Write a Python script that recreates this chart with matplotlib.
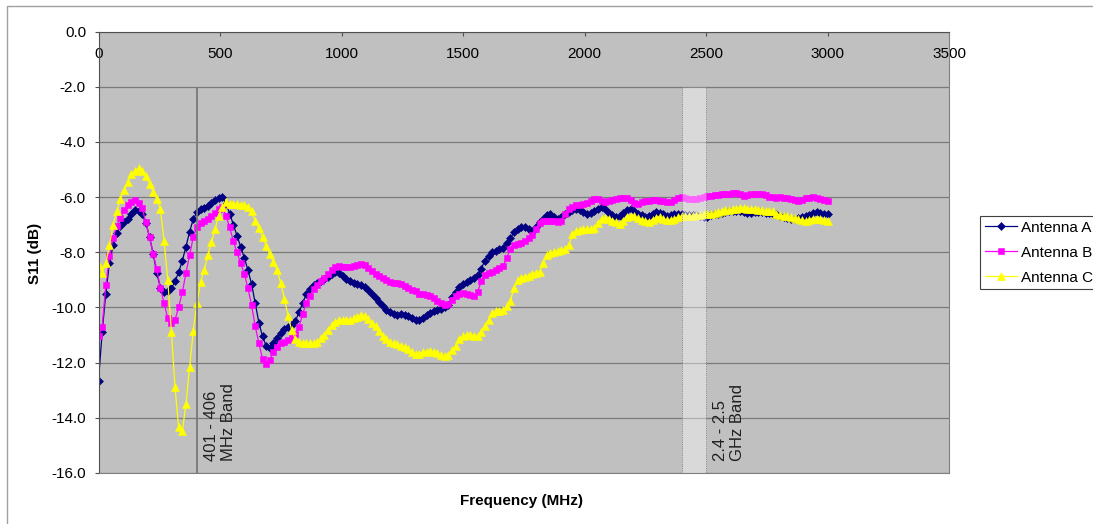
import matplotlib.pyplot as plt
import matplotlib.patches as patches
import numpy as np

plt.rcParams['font.family'] = ['Liberation Sans', 'DejaVu Sans']
plt.rcParams['axes.unicode_minus'] = False

# sweep points, 0 - 3000 MHz in 15 MHz steps
freq_mhz = np.arange(0, 3001, 15)

s11_antenna_a = [
    -12.65, -10.90, -9.50, -8.40, -7.75, -7.30, -7.05, -6.90, -6.80, -6.60,
    -6.48, -6.50, -6.62, -6.95, -7.45, -8.05, -8.75, -9.30, -9.45, -9.42,
    -9.30, -9.05, -8.72, -8.30, -7.80, -7.25, -6.80, -6.55, -6.45, -6.40,
    -6.32, -6.22, -6.12, -6.02, -6.00, -6.25, -6.60, -7.00, -7.40, -7.80,
    -8.20, -8.65, -9.15, -9.85, -10.55, -11.05, -11.40, -11.48, -11.30, -11.12,
    -10.92, -10.78, -10.70, -10.62, -10.50, -10.18, -9.85, -9.52, -9.32, -9.20,
    -9.10, -9.05, -8.98, -8.90, -8.80, -8.73, -8.76, -8.86, -8.97, -9.04,
    -9.10, -9.14, -9.19, -9.27, -9.38, -9.50, -9.64, -9.80, -9.95, -10.08,
    -10.18, -10.22, -10.26, -10.24, -10.28, -10.30, -10.38, -10.44, -10.46, -10.38,
    -10.28, -10.20, -10.14, -10.08, -10.04, -10.00, -9.90, -9.62, -9.45, -9.25,
    -9.15, -9.08, -9.02, -8.95, -8.82, -8.60, -8.30, -8.12, -8.00, -7.95,
    -7.90, -7.85, -7.65, -7.48, -7.28, -7.15, -7.10, -7.08, -7.15, -7.25,
    -7.10, -6.92, -6.78, -6.65, -6.62, -6.72, -6.78, -6.72, -6.62, -6.55,
    -6.48, -6.43, -6.48, -6.55, -6.60, -6.58, -6.50, -6.42, -6.37, -6.45,
    -6.58, -6.66, -6.72, -6.70, -6.58, -6.47, -6.45, -6.52, -6.60, -6.66,
    -6.72, -6.70, -6.60, -6.55, -6.58, -6.63, -6.67, -6.66, -6.62, -6.60,
    -6.62, -6.65, -6.66, -6.64, -6.66, -6.70, -6.73, -6.72, -6.66, -6.62,
    -6.60, -6.57, -6.55, -6.52, -6.50, -6.49, -6.51, -6.55, -6.58, -6.57,
    -6.55, -6.54, -6.55, -6.57, -6.58, -6.60, -6.62, -6.68, -6.73, -6.76,
    -6.78, -6.79, -6.77, -6.72, -6.68, -6.64, -6.58, -6.55, -6.57, -6.60,
    -6.62,
]

s11_antenna_b = [
    -11.05, -10.70, -9.20, -8.15, -7.48, -7.05, -6.75, -6.48, -6.30, -6.18,
    -6.12, -6.20, -6.40, -6.92, -7.45, -8.05, -8.62, -9.30, -9.85, -10.40,
    -10.55, -10.45, -9.98, -9.45, -8.75, -8.10, -7.45, -7.10, -6.95, -6.86,
    -6.78, -6.68, -6.56, -6.43, -6.36, -6.70, -7.10, -7.60, -8.00, -8.40,
    -8.78, -9.30, -9.92, -10.68, -11.30, -11.88, -12.05, -11.92, -11.60, -11.42,
    -11.30, -11.24, -11.18, -11.12, -10.98, -10.70, -10.25, -9.85, -9.58, -9.32,
    -9.18, -9.05, -8.92, -8.78, -8.63, -8.55, -8.50, -8.52, -8.54, -8.52,
    -8.50, -8.46, -8.44, -8.48, -8.58, -8.68, -8.78, -8.86, -8.95, -9.02,
    -9.07, -9.10, -9.12, -9.15, -9.22, -9.30, -9.36, -9.42, -9.50, -9.52,
    -9.54, -9.58, -9.66, -9.76, -9.84, -9.90, -9.88, -9.72, -9.58, -9.50,
    -9.48, -9.52, -9.56, -9.60, -9.45, -9.05, -8.82, -8.76, -8.72, -8.65,
    -8.58, -8.50, -8.20, -7.88, -7.74, -7.70, -7.65, -7.58, -7.48, -7.38,
    -7.15, -6.95, -6.88, -6.85, -6.86, -6.88, -6.90, -6.85, -6.60, -6.42,
    -6.35, -6.30, -6.27, -6.25, -6.20, -6.14, -6.08, -6.08, -6.14, -6.18,
    -6.15, -6.10, -6.06, -6.04, -6.02, -6.03, -6.12, -6.22, -6.24, -6.18,
    -6.14, -6.13, -6.12, -6.12, -6.14, -6.15, -6.19, -6.17, -6.10, -6.03,
    -6.00, -6.02, -6.06, -6.08, -6.07, -6.05, -6.00, -5.96, -5.95, -5.94,
    -5.92, -5.90, -5.89, -5.88, -5.84, -5.85, -5.90, -5.95, -5.93, -5.90,
    -5.88, -5.89, -5.90, -5.94, -5.98, -6.01, -6.02, -6.01, -6.02, -6.05,
    -6.08, -6.12, -6.13, -6.10, -6.05, -6.02, -6.01, -6.04, -6.08, -6.12,
    -6.13,
]

s11_antenna_c = [
    -8.45, -8.75, -8.40, -7.75, -7.00, -6.50, -6.08, -5.75, -5.45, -5.18,
    -5.05, -4.95, -5.05, -5.25, -5.52, -5.82, -6.08, -6.45, -7.60, -9.00,
    -10.90, -12.90, -14.35, -14.48, -13.50, -12.15, -10.85, -9.85, -9.07, -8.65,
    -8.11, -7.63, -7.15, -6.67, -6.37, -6.19, -6.24, -6.26, -6.25, -6.28,
    -6.30, -6.35, -6.52, -6.86, -7.12, -7.45, -7.78, -8.08, -8.36, -8.66,
    -9.12, -9.68, -10.30, -10.82, -11.15, -11.25, -11.30, -11.30, -11.30, -11.28,
    -11.25, -11.12, -11.00, -10.82, -10.64, -10.52, -10.46, -10.46, -10.46, -10.44,
    -10.40, -10.34, -10.26, -10.32, -10.42, -10.55, -10.68, -10.85, -11.05, -11.16,
    -11.25, -11.30, -11.34, -11.38, -11.42, -11.50, -11.62, -11.70, -11.68, -11.62,
    -11.60, -11.58, -11.60, -11.66, -11.72, -11.76, -11.72, -11.55, -11.38, -11.15,
    -11.05, -11.00, -11.00, -11.02, -11.05, -10.90, -10.68, -10.45, -10.20, -10.14,
    -10.12, -10.10, -9.95, -9.75, -9.30, -9.02, -8.92, -8.88, -8.85, -8.80,
    -8.75, -8.70, -8.40, -8.10, -8.02, -7.98, -7.95, -7.93, -7.90, -7.75,
    -7.35, -7.22, -7.18, -7.15, -7.15, -7.15, -7.12, -6.95, -6.78, -6.75,
    -6.80, -6.86, -6.92, -6.96, -6.88, -6.74, -6.67, -6.70, -6.77, -6.82,
    -6.88, -6.90, -6.84, -6.76, -6.73, -6.78, -6.84, -6.84, -6.78, -6.73,
    -6.68, -6.67, -6.70, -6.68, -6.66, -6.65, -6.63, -6.61, -6.60, -6.57,
    -6.54, -6.50, -6.48, -6.46, -6.44, -6.42, -6.38, -6.40, -6.42, -6.43,
    -6.43, -6.46, -6.48, -6.49, -6.50, -6.52, -6.60, -6.65, -6.68, -6.70,
    -6.73, -6.77, -6.80, -6.84, -6.85, -6.82, -6.79, -6.79, -6.81, -6.84,
    -6.85,
]

series_labels = ['Antenna A', 'Antenna B', 'Antenna C']
x_ticks = [0, 500, 1000, 1500, 2000, 2500, 3000, 3500]
y_ticks = [0, -2, -4, -6, -8, -10, -12, -14, -16]

# frequency bands of interest (low MHz, high MHz, label)
bands = [
    (401, 406, '401 - 406\nMHz Band'),
    (2400, 2500, '2.4 - 2.5\nGHz Band'),
]
band_top_db = -2.0

W, H = 1093, 524
fig = plt.figure(figsize=(W / 100, H / 100), dpi=100)
ax = fig.add_axes([98.5 / W, 1 - 473 / H, (949 - 98.5) / W, (473 - 31.5) / H])
ax.set_facecolor('#c0c0c0')

styles = [
    dict(color='#000080', marker='D', markersize=4.2),
    dict(color='#ff00ff', marker='s', markersize=4.2),
    dict(color='#ffff00', marker='^', markersize=5.4),
]
for values, label, st in zip([s11_antenna_a, s11_antenna_b, s11_antenna_c], series_labels, styles):
    ax.plot(freq_mhz, values, lw=0.9, label=label, markeredgewidth=0.4, **st)

ax.set_xlim(0, 3500)
ax.set_ylim(-16, 0)
ax.set_xticks(x_ticks)
ax.set_yticks(y_ticks)
ax.set_yticklabels([f'{v:.1f}' for v in y_ticks])
ax.yaxis.grid(True, color='#7a7a7a', lw=0.9)
ax.set_axisbelow(True)

# category axis sits at 0 dB (top), labels hang below it
ax.tick_params(axis='x', top=True, bottom=False, labeltop=True, labelbottom=False,
               direction='in', length=3, pad=-21, labelsize=11, color='#505050')
ax.tick_params(axis='y', direction='out', length=3, pad=6, labelsize=11, color='#505050')

for side in ['left', 'top']:
    ax.spines[side].set_color('#505050')
for side in ['right', 'bottom']:
    ax.spines[side].set_color('#808080')

for lo, hi, text in bands:
    # a narrow band reads as a single solid line
    ls = ':' if hi - lo > 20 else '-'
    rect = patches.Rectangle((lo, -16), hi - lo, band_top_db + 16,
                             facecolor=(1, 1, 1, 0.4), edgecolor='#707070',
                             linestyle=ls, lw=0.6, zorder=5)
    ax.add_patch(rect)
    ax.text(hi + 28, -15.55, text, rotation=90, ha='left', va='bottom',
            fontsize=12, color='#202020', linespacing=1.2, zorder=6)

fig.text(35 / W, 1 - 253 / H, 'S11 (dB)', rotation=90, ha='center', va='center',
         fontsize=11, fontweight='bold')
fig.text(522 / W, 1 - 501 / H, 'Frequency (MHz)', ha='center', va='center',
         fontsize=11, fontweight='bold')

leg = ax.legend(loc='upper left', bbox_to_anchor=(980 / W, 1 - 216 / H),
                bbox_transform=fig.transFigure, frameon=True, fancybox=False,
                edgecolor='#404040', facecolor='white', framealpha=1, fontsize=11,
                borderaxespad=0, handlelength=2.1, handletextpad=0.3,
                labelspacing=0.72, borderpad=0.3)
leg.get_frame().set_linewidth(0.8)

# chart area border
fig.add_artist(patches.Rectangle((7 / W, -0.1), 1.2, 1 - 6 / H + 0.1,
                                 transform=fig.transFigure, fill=False,
                                 edgecolor='#a0a0a0', lw=1))

fig.savefig('out.png', dpi=100)
